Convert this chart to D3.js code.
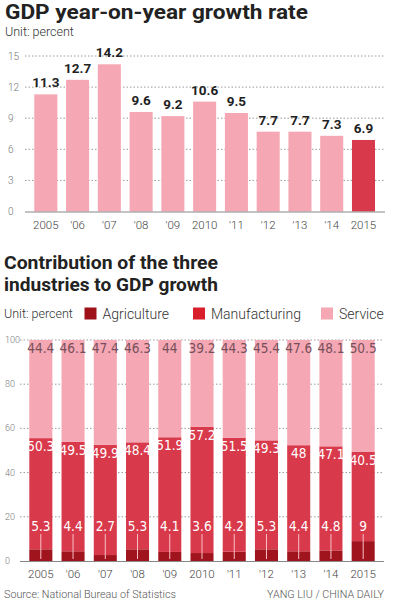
<!DOCTYPE html>
<html>
<head>
<meta charset="utf-8">
<script src="https://cdnjs.cloudflare.com/ajax/libs/d3/7.8.5/d3.min.js"></script>
<style>
  body { margin: 0; background: #fff; }
  svg { display: block; }
  .narrow { font-family: "Liberation Sans Narrow", "DejaVu Sans Condensed", Roboto, sans-serif; }
  .light { font-family: Roboto, "Noto Sans", sans-serif; font-weight: 300; }
  .head { font-family: Roboto, "DejaVu Sans", sans-serif; font-weight: 700; fill: #222; }
</style>
</head>
<body>
<div id="chart"></div>
<script>
var svgWidth = 397;
var svgHeight = 616;

// data
var years = ["2005", "'06", "'07", "'08", "'09", "2010", "'11", "'12", "'13", "'14", "2015"];
var gdpGrowth = [11.3, 12.7, 14.2, 9.6, 9.2, 10.6, 9.5, 7.7, 7.7, 7.3, 6.9];
var gdpTicks = [0, 3, 6, 9, 12, 15];

var agriculture = [5.3, 4.4, 2.7, 5.3, 4.1, 3.6, 4.2, 5.3, 4.4, 4.8, 9];
var manufacturing = [50.3, 49.5, 49.9, 48.4, 51.9, 57.2, 51.5, 49.3, 48, 47.1, 40.5];
var service = [44.4, 46.1, 47.4, 46.3, 44, 39.2, 44.3, 45.4, 47.6, 48.1, 50.5];
var shareTicks = [0, 20, 40, 60, 80, 100];
var industries = ["Agriculture", "Manufacturing", "Service"];

var pink = "#f5a7b4";
var red = "#d93a4b";
var darkRed = "#a0151d";

var svg = d3.select("#chart")
  .append("svg")
  .attr("width", svgWidth)
  .attr("height", svgHeight);

// ---------- top chart: GDP growth ----------
svg.append("text")
  .attr("class", "head")
  .attr("x", 5)
  .attr("y", 19)
  .attr("font-size", 20)
  .attr("textLength", 303)
  .attr("lengthAdjust", "spacingAndGlyphs")
  .text("GDP year-on-year growth rate");

svg.append("text")
  .attr("class", "light")
  .attr("x", 5)
  .attr("y", 36)
  .attr("font-size", 12.5)
  .attr("fill", "#333")
  .text("Unit: percent");

var x1 = d3.scaleBand()
  .domain(years)
  .range([34.3, 375])
  .paddingInner(0.275)
  .paddingOuter(0);

var y1 = d3.scaleLinear()
  .domain([0, 15])
  .range([211.5, 56]);

var growthChart = svg.append("g");

growthChart.selectAll(".grid")
  .data(gdpTicks.filter(d => d > 0))
  .enter()
  .append("line")
  .attr("x1", 25)
  .attr("x2", 384)
  .attr("y1", d => y1(d))
  .attr("y2", d => y1(d))
  .attr("stroke", "#999")
  .attr("stroke-dasharray", "1.5,2");

growthChart.selectAll(".tick-label")
  .data(gdpTicks)
  .enter()
  .append("text")
  .attr("class", "light")
  .attr("x", 8)
  .attr("y", d => y1(d) + 3.5)
  .attr("font-size", 10)
  .attr("fill", "#777")
  .text(d => d);

growthChart.selectAll("rect")
  .data(gdpGrowth)
  .enter()
  .append("rect")
  .attr("x", (d, i) => x1(years[i]))
  .attr("y", d => y1(d))
  .attr("width", x1.bandwidth())
  .attr("height", d => y1(0) - y1(d))
  .attr("fill", (d, i) => i === gdpGrowth.length - 1 ? red : pink);

growthChart.selectAll(".val")
  .data(gdpGrowth)
  .enter()
  .append("text")
  .attr("class", "head")
  .attr("x", (d, i) => x1(years[i]) + x1.bandwidth() / 2)
  .attr("y", d => y1(d) - 7)
  .attr("text-anchor", "middle")
  .attr("font-size", 13.5)
  .attr("fill", "#333")
  .text(d => d);

growthChart.append("line")
  .attr("x1", 25)
  .attr("x2", 385)
  .attr("y1", y1(0) + 0.5)
  .attr("y2", y1(0) + 0.5)
  .attr("stroke", "#888");

growthChart.selectAll(".year")
  .data(years)
  .enter()
  .append("text")
  .attr("class", "light")
  .attr("x", d => x1(d) + x1.bandwidth() / 2)
  .attr("y", 229)
  .attr("text-anchor", "middle")
  .attr("font-size", 11.5)
  .attr("fill", "#444")
  .text(d => d);

// ---------- bottom chart: contribution ----------
var title2 = svg.append("text")
  .attr("class", "head")
  .attr("font-size", 17.5);

title2.append("tspan")
  .attr("x", 4)
  .attr("y", 269)
  .attr("textLength", 214)
  .attr("lengthAdjust", "spacingAndGlyphs")
  .text("Contribution of the three");

title2.append("tspan")
  .attr("x", 4)
  .attr("y", 290.5)
  .attr("textLength", 214)
  .attr("lengthAdjust", "spacingAndGlyphs")
  .text("industries to GDP growth");

svg.append("text")
  .attr("class", "light")
  .attr("x", 4)
  .attr("y", 318)
  .attr("font-size", 12.5)
  .attr("fill", "#333")
  .text("Unit: percent");

var legendColors = ["#9e1119", "#d81e2b", pink];
var legendX = [84.5, 193, 321];

var legend = svg.append("g");
legend.selectAll("rect")
  .data(industries)
  .enter()
  .append("rect")
  .attr("x", (d, i) => legendX[i])
  .attr("y", 307.5)
  .attr("width", 12)
  .attr("height", 12)
  .attr("fill", (d, i) => legendColors[i]);

legend.selectAll("text")
  .data(industries)
  .enter()
  .append("text")
  .attr("class", "light")
  .attr("x", (d, i) => legendX[i] + 18)
  .attr("y", 318.5)
  .attr("font-size", 14)
  .attr("fill", "#333")
  .text(d => d);

var x2 = d3.scaleBand()
  .domain(years)
  .range([29.3, 374.7])
  .paddingInner(0.285)
  .paddingOuter(0);

var y2 = d3.scaleLinear()
  .domain([0, 100])
  .range([561, 340]);

var shareChart = svg.append("g");

shareChart.selectAll(".grid")
  .data(shareTicks.filter(d => d > 0))
  .enter()
  .append("line")
  .attr("x1", 20)
  .attr("x2", 384)
  .attr("y1", d => y2(d))
  .attr("y2", d => y2(d))
  .attr("stroke", "#999")
  .attr("stroke-dasharray", "1.5,2");

shareChart.selectAll(".tick-label")
  .data(shareTicks)
  .enter()
  .append("text")
  .attr("class", "light")
  .attr("x", 5)
  .attr("y", d => y2(d) + 3)
  .attr("font-size", 9)
  .attr("fill", "#777")
  .text(d => d);

var stackData = years.map(function(yr, i) {
  return { year: yr, Agriculture: agriculture[i], Manufacturing: manufacturing[i], Service: service[i] };
});

var stack = d3.stack().keys(industries);
var series = stack(stackData);
var segColors = [darkRed, red, pink];

shareChart.selectAll(".layer")
  .data(series)
  .enter()
  .append("g")
  .attr("fill", (d, i) => segColors[i])
  .selectAll("rect")
  .data(d => d)
  .enter()
  .append("rect")
  .attr("x", d => x2(d.data.year))
  .attr("y", d => y2(Math.min(d[1], 100)))
  .attr("width", x2.bandwidth())
  .attr("height", d => y2(d[0]) - y2(Math.min(d[1], 100)));

// service labels near top
shareChart.selectAll(".svc")
  .data(stackData)
  .enter()
  .append("text")
  .attr("class", "narrow")
  .attr("x", d => x2(d.year) + x2.bandwidth() / 2)
  .attr("y", 353)
  .attr("text-anchor", "middle")
  .attr("font-size", 13.5)
  .attr("fill", "#75505a")
  .text(d => d.Service);

// manufacturing labels under segment top
shareChart.selectAll(".mfg")
  .data(stackData)
  .enter()
  .append("text")
  .attr("class", "narrow")
  .attr("x", d => x2(d.year) + x2.bandwidth() / 2)
  .attr("y", d => y2(d.Agriculture + d.Manufacturing) + 13)
  .attr("text-anchor", "middle")
  .attr("font-size", 13.5)
  .attr("fill", "#fff")
  .text(d => d.Manufacturing);

// agriculture labels with pointer lines
shareChart.selectAll(".agr")
  .data(stackData)
  .enter()
  .append("text")
  .attr("class", "narrow")
  .attr("x", d => x2(d.year) + x2.bandwidth() / 2)
  .attr("y", 530.5)
  .attr("text-anchor", "middle")
  .attr("font-size", 13.5)
  .attr("fill", "#fff")
  .text(d => d.Agriculture);

shareChart.selectAll(".agr-line")
  .data(stackData)
  .enter()
  .append("line")
  .attr("x1", d => x2(d.year) + x2.bandwidth() / 2)
  .attr("x2", d => x2(d.year) + x2.bandwidth() / 2)
  .attr("y1", 534)
  .attr("y2", y2(0) - 2)
  .attr("stroke", "#f7c0c8")
  .attr("stroke-width", 1);

shareChart.append("line")
  .attr("x1", 20)
  .attr("x2", 384)
  .attr("y1", y2(0) + 0.5)
  .attr("y2", y2(0) + 0.5)
  .attr("stroke", "#888");

shareChart.selectAll(".year")
  .data(years)
  .enter()
  .append("text")
  .attr("class", "light")
  .attr("x", d => x2(d) + x2.bandwidth() / 2)
  .attr("y", 578)
  .attr("text-anchor", "middle")
  .attr("font-size", 11.5)
  .attr("fill", "#444")
  .text(d => d);

svg.append("text")
  .attr("class", "light")
  .attr("x", 4)
  .attr("y", 598)
  .attr("font-size", 11.5)
  .attr("fill", "#555")
  .attr("textLength", 172)
  .attr("lengthAdjust", "spacingAndGlyphs")
  .text("Source: National Bureau of Statistics");

svg.append("text")
  .attr("class", "light")
  .attr("x", 384)
  .attr("y", 598)
  .attr("text-anchor", "end")
  .attr("font-size", 11.5)
  .attr("fill", "#555")
  .attr("textLength", 117)
  .attr("lengthAdjust", "spacingAndGlyphs")
  .text("YANG LIU / CHINA DAILY");
</script>
</body>
</html>
